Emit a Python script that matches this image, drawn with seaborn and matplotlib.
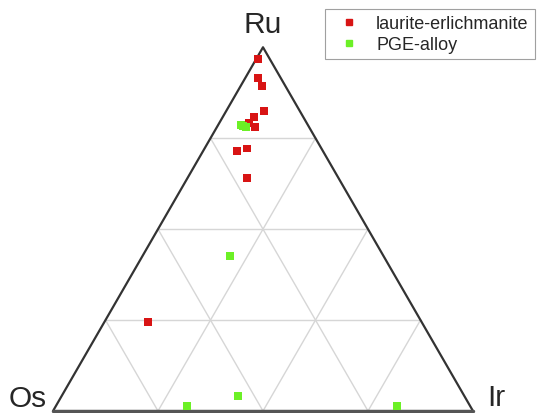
import numpy as np
import pandas as pd
import seaborn as sns
import matplotlib.pyplot as plt
from matplotlib.lines import Line2D

# ternary compositions (fractions of Ru, Ir; Os = 1 - Ru - Ir)
laurite_ru = [0.967, 0.915, 0.893, 0.824, 0.808, 0.791, 0.780, 0.714, 0.722, 0.640, 0.245]
laurite_ir = [0.005, 0.031, 0.051, 0.090, 0.075, 0.071, 0.091, 0.081, 0.101, 0.142, 0.104]

alloy_ru = [0.783, 0.780, 0.786, 0.426, 0.041, 0.014, 0.014]
alloy_ir = [0.061, 0.070, 0.055, 0.208, 0.420, 0.312, 0.812]

groups = ['laurite-erlichmanite', 'PGE-alloy']
colors = ['#d81414', '#6cf026']
apex_labels = ['Ru', 'Os', 'Ir']

H = np.sqrt(3) / 2


def to_xy(ru, ir):
    ru = np.asarray(ru)
    ir = np.asarray(ir)
    return ir + ru / 2, ru * H


rows = []
for name, ru, ir in [(groups[0], laurite_ru, laurite_ir), (groups[1], alloy_ru, alloy_ir)]:
    x, y = to_xy(ru, ir)
    for xi, yi in zip(x, y):
        rows.append({'x': xi, 'y': yi, 'group': name})
df = pd.DataFrame(rows)

sns.set_style('white')
plt.rcParams['font.family'] = ['Liberation Sans', 'DejaVu Sans']

fig = plt.figure(figsize=(5.38, 4.14), dpi=100)
ax = fig.add_axes([0, 0, 1, 1])
ax.set_xlim(-53 / 420, (538 - 53) / 420)
ax.set_ylim(-2 / 420, 412 / 420)
ax.set_axis_off()

# grid lines at 25% steps
for t in [0.25, 0.5, 0.75]:
    # constant Ru
    x0, y0 = to_xy(t, 0)
    x1, y1 = to_xy(t, 1 - t)
    ax.plot([x0, x1], [y0, y1], color='#d6d6d6', lw=1, zorder=1)
    # constant Ir
    x0, y0 = to_xy(0, t)
    x1, y1 = to_xy(1 - t, t)
    ax.plot([x0, x1], [y0, y1], color='#d6d6d6', lw=1, zorder=1)
    # constant Os
    x0, y0 = to_xy(0, 1 - t)
    x1, y1 = to_xy(1 - t, 0)
    ax.plot([x0, x1], [y0, y1], color='#d6d6d6', lw=1, zorder=1)

# triangle frame
ax.plot([0, 0.5, 1], [0, H, 0], color='#333333', lw=1.6, zorder=2)
ax.plot([0, 1], [0, 0], color='#555555', lw=2.5, zorder=2)

sns.scatterplot(data=df, x='x', y='y', hue='group', palette=colors, marker='s',
                s=30, linewidth=0, ax=ax, legend=False, zorder=3)

ax.text(0.5, H + 0.036, apex_labels[0], ha='center', va='baseline', fontsize=21.5)
ax.text(-0.014, 0.012, apex_labels[1], ha='right', va='baseline', fontsize=21.5)
ax.text(1.035, 0.014, apex_labels[2], ha='left', va='baseline', fontsize=21.5)

handles = [Line2D([], [], marker='s', color=c, ls='', markersize=5) for c in colors]
leg = ax.legend(handles, groups, loc='upper right', bbox_to_anchor=(535 / 538, 1 - 10 / 414),
                bbox_transform=fig.transFigure, borderaxespad=0,
                fontsize=13, frameon=True, fancybox=False, edgecolor='#888888',
                handletextpad=0.5, borderpad=0.35, labelspacing=0.2, handlelength=2.0)
leg.get_frame().set_linewidth(0.8)

fig.savefig('out.png', dpi=100)
